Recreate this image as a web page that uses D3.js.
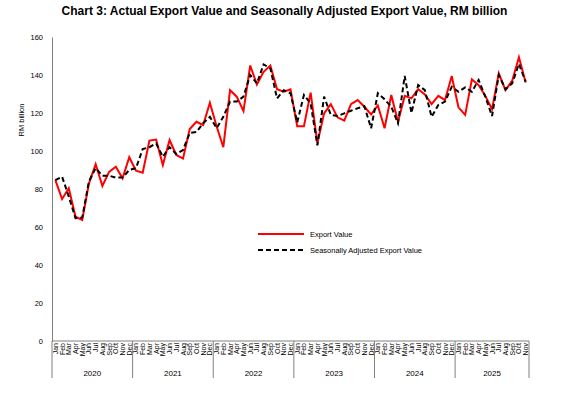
<!DOCTYPE html>
<html>
<head>
<meta charset="utf-8">
<script src="https://cdn.jsdelivr.net/npm/d3@7"></script>
<style>
  body { margin: 0; background: #fff; }
  svg { font-family: "Liberation Sans", Arial, sans-serif; }
</style>
</head>
<body>
<svg width="569" height="397"></svg>
<script>
var width = 569;
var height = 397;

var monthNames = ["Jan","Feb","Mar","Apr","May","Jun","Jul","Aug","Sep","Oct","Nov","Dec"];
var years = ["2020","2021","2022","2023","2024","2025"];
var monthsPerYear = [12, 12, 12, 12, 12, 11];

var exportValue = [
  84.7, 74.7, 80.4, 65.4, 63.7, 83, 93, 81.6, 89, 91.7, 85.6, 96.7,
  89.6, 88.6, 105.5, 106, 92.6, 105.8, 97.9, 96, 111.6, 115.4, 113.7, 125.4,
  113, 102, 132, 128.6, 121, 145, 135, 141.7, 145, 132.5, 131.2, 132.5,
  113, 113, 130.7, 104, 119.8, 124.7, 117.7, 116, 124.7, 126.8, 123.3, 119.3,
  124, 112, 129.5, 115.4, 129, 127.7, 132.5, 129.8, 124.7, 129, 126.8, 139.5,
  123, 119, 137.7, 134.7, 129, 122, 140.9, 132, 137, 149.3, 136
];

var saValue = [
  84.7, 86.5, 76, 64.6, 65, 84, 91, 87, 87, 86, 86, 90,
  91, 101, 102, 104, 97, 102, 98.4, 100.5, 109.5, 110, 114.6, 118,
  112, 118, 126, 126, 128.6, 140, 135.6, 145.6, 143.5, 127.7, 132, 130.4,
  115, 129.5, 125, 103, 128.6, 119, 118.4, 119.8, 121.2, 122.5, 123.5, 112,
  130.4, 127.2, 123.3, 114.6, 139.5, 120, 134.7, 132, 118, 124.2, 126, 133.8,
  131.2, 133.5, 131.2, 137.4, 128.6, 118.4, 140, 132.5, 135.6, 145.8, 136.5
];

var yTicks = [0, 20, 40, 60, 80, 100, 120, 140, 160];

// build month list
var months = [];
years.forEach(function(y, yi) {
  for (var m = 0; m < monthsPerYear[yi]; m++) {
    months.push({ year: y, month: monthNames[m], i: months.length });
  }
});

var margin = { left: 52, right: 40, top: 37, bottom: 56 };
var plotW = width - margin.left - margin.right;
var plotH = height - margin.top - margin.bottom;

var svg = d3.select("svg");

svg.append("text")
    .attr("x", width / 2)
    .attr("y", 15)
    .attr("text-anchor", "middle")
    .style("font-size", "12px")
    .style("font-weight", "bold")
    .text("Chart 3: Actual Export Value and Seasonally Adjusted Export Value, RM billion");

var g = svg.append("g")
    .attr("transform", "translate(" + margin.left + "," + margin.top + ")");

var x = d3.scaleBand()
    .domain(months.map(function(d) { return d.i; }))
    .range([0, plotW]);

var y = d3.scaleLinear()
    .domain([0, 160])
    .range([plotH, 0]);

// y axis, no tick marks
var yAxis = d3.axisLeft(y)
    .tickValues(yTicks)
    .tickSize(0)
    .tickSizeOuter(0)
    .tickPadding(9);

var ya = g.append("g").call(yAxis);
ya.select(".domain").attr("stroke", "#808080");
ya.selectAll("text").style("font-size", "7.5px").attr("fill", "#000");

svg.append("text")
    .attr("transform", "translate(24,120) rotate(-90)")
    .attr("text-anchor", "middle")
    .style("font-size", "7.5px")
    .text("RM billion");

// x axis line
g.append("line")
    .attr("x1", 0).attr("x2", plotW)
    .attr("y1", plotH).attr("y2", plotH)
    .attr("stroke", "#808080");

// month labels
g.selectAll(".mlabel")
    .data(months)
  .enter().append("text")
    .attr("class", "mlabel")
    .attr("transform", function(d) {
      return "translate(" + (x(d.i) + x.bandwidth() / 2 + 2.5) + "," + (plotH + 2) + ") rotate(-90)";
    })
    .attr("text-anchor", "end")
    .style("font-size", "7px")
    .text(function(d) { return d.month; });

// year separators and labels
var yearStart = 0;
var yearInfo = years.map(function(yr, yi) {
  var s = yearStart;
  yearStart += monthsPerYear[yi];
  return { year: yr, start: s, end: yearStart - 1 };
});

var sepX = [0].concat(yearInfo.map(function(d) { return x(d.end) + x.bandwidth(); }));
g.selectAll(".sep")
    .data(sepX)
  .enter().append("line")
    .attr("x1", function(d) { return d; })
    .attr("x2", function(d) { return d; })
    .attr("y1", plotH)
    .attr("y2", plotH + 37)
    .attr("stroke", "#808080");

g.selectAll(".ylabel")
    .data(yearInfo)
  .enter().append("text")
    .attr("x", function(d) { return (x(d.start) + x(d.end) + x.bandwidth()) / 2; })
    .attr("y", plotH + 35)
    .attr("text-anchor", "middle")
    .style("font-size", "8px")
    .text(function(d) { return d.year; });

// lines
var line = d3.line()
    .x(function(d, i) { return x(i) + x.bandwidth() / 2; })
    .y(function(d) { return y(d); });

g.append("path")
    .datum(exportValue)
    .attr("fill", "none")
    .attr("stroke", "#ff0000")
    .attr("stroke-width", 2)
    .attr("d", line);

g.append("path")
    .datum(saValue)
    .attr("fill", "none")
    .attr("stroke", "#000")
    .attr("stroke-width", 2)
    .attr("stroke-dasharray", "5,3")
    .attr("d", line);

// legend
var legend = svg.append("g").attr("transform", "translate(258,234)");
legend.append("line")
    .attr("x1", 0).attr("x2", 46).attr("y1", 0).attr("y2", 0)
    .attr("stroke", "#ff0000").attr("stroke-width", 2);
legend.append("text")
    .attr("x", 52).attr("y", 3)
    .style("font-size", "7.5px")
    .text("Export Value");
legend.append("line")
    .attr("x1", 0).attr("x2", 46).attr("y1", 16).attr("y2", 16)
    .attr("stroke", "#000").attr("stroke-width", 2)
    .attr("stroke-dasharray", "5,3");
legend.append("text")
    .attr("x", 52).attr("y", 19)
    .style("font-size", "7.5px")
    .text("Seasonally Adjusted Export Value");
</script>
</body>
</html>
